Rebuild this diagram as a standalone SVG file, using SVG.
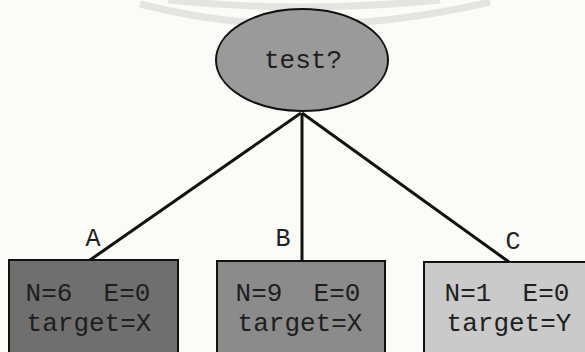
<svg xmlns="http://www.w3.org/2000/svg" width="585" height="352" viewBox="0 0 585 352">
<defs>
<style>
.lbl{font-family:"Liberation Mono","DejaVu Sans Mono",monospace;fill:#1e1e1e;text-anchor:middle}
.big{font-size:26px}
.sm{font-size:25px}
.edge{stroke:#111;stroke-width:3;fill:none}
.box{stroke:#111;stroke-width:2}
</style>
</defs>
<rect width="585" height="352" fill="#fbfbf7"/>
<g id="watermark" fill="none" stroke="#e4e4e2" stroke-width="7">
<path d="M168,0 Q300,14 440,0"/>
<path d="M140,4 Q300,46 490,2"/>
</g>
<g id="connectors">
<line class="edge" x1="301" y1="113" x2="90" y2="260"/>
<line class="edge" x1="302" y1="113" x2="302" y2="261"/>
<line class="edge" x1="302" y1="113" x2="509" y2="262"/>
<text class="lbl sm" x="93" y="246">A</text>
<text class="lbl sm" x="283" y="246">B</text>
<text class="lbl sm" x="513" y="249">C</text>
</g>
<g id="test">
<ellipse cx="302" cy="60" rx="86" ry="51" fill="#9a9a9a" stroke="#111" stroke-width="2"/>
<text class="lbl big" x="303" y="68">test?</text>
</g>
<g id="nodeA">
<rect class="box" x="9" y="260" width="169" height="96" fill="#6f6f6f"/>
<text class="lbl big" x="88" y="301" xml:space="preserve">N=6  E=0</text>
<text class="lbl big" x="89" y="331">target=X</text>
</g>
<g id="nodeB">
<rect class="box" x="217" y="261" width="168" height="95" fill="#8b8b8b"/>
<text class="lbl big" x="298" y="301" xml:space="preserve">N=9  E=0</text>
<text class="lbl big" x="300" y="331">target=X</text>
</g>
<g id="nodeC">
<rect class="box" x="424" y="262" width="170" height="94" fill="#cacaca"/>
<text class="lbl big" x="507" y="301" xml:space="preserve">N=1  E=0</text>
<text class="lbl big" x="509" y="331">target=Y</text>
</g>
</svg>
